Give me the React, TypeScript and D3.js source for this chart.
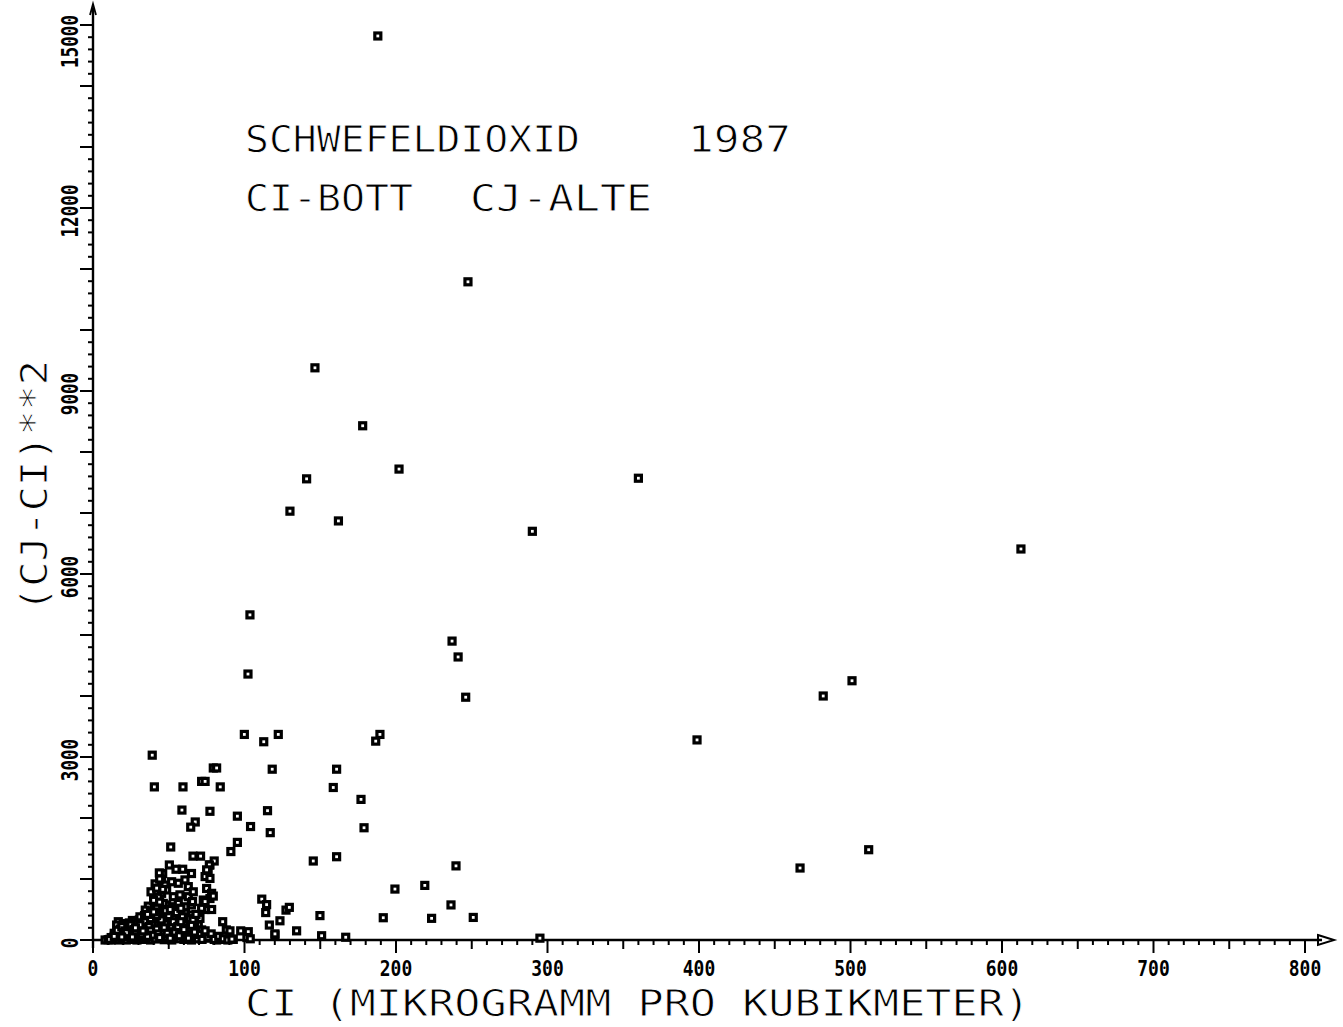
import React from 'react';
import * as d3 from 'd3';

// outliers, ci vs (cj-ci)^2
const sparsePoints: [number, number][] = [
  [188, 14820], [247.5, 10790], [146.5, 9380], [178, 8430], [141, 7560], [202, 7720],
  [130, 7030], [162, 6870], [290, 6700], [360, 7570], [612.5, 6410], [103.6, 5330],
  [102.3, 4360], [237, 4900], [241, 4640], [246, 3980], [482, 4000], [501, 4250],
  [398.7, 3280], [466.7, 1180], [512, 1480], [295, 30],
];

const midPoints: [number, number][] = [
  [99.9, 3370], [122.3, 3370], [112.7, 3250], [118.3, 2800], [115.2, 2120], [117, 1760],
  [104, 1860], [95.3, 2030], [95.3, 1600], [91, 1450], [186.6, 3260], [189.4, 3370],
  [160.8, 2800], [158.6, 2500], [176.9, 2305], [178.9, 1840], [160.8, 1365], [145.4, 1295],
  [199.3, 835], [219, 895], [239.6, 1215], [236.3, 575], [223.5, 355], [251, 370],
  [191.6, 365], [149.8, 400], [150.9, 70], [166.8, 45], [134.4, 150], [120.1, 80], [120.1, 100],
  [39.1, 3030], [40.5, 2510], [59.4, 2510], [58.7, 2130], [77.2, 2110], [79.4, 2820],
  [81.6, 2820], [71.7, 2600], [74, 2600], [84, 2510], [67.5, 1935], [64.5, 1850], [51.3, 1525],
  [111.4, 670], [114.6, 580], [114, 450], [116.4, 245], [123.4, 315], [127.4, 490], [129.6, 535],
  [97.5, 150], [102.5, 136], [92.6, 10], [101.6, 40], [103.8, 20], [90.4, 150], [91.7, 15],
];

const clusterPoints: [number, number][] = [
  [66, 1375], [71, 1375], [50.4, 1230], [54.8, 1160], [59.2, 1160], [65, 1090], [77.2, 1230],
  [76, 1120], [74, 1040], [77.2, 1010], [80, 1295], [76.8, 1230], [75, 1150], [46, 1090],
  [43.8, 1100], [45.3, 955], [47.5, 900], [41, 920], [51.9, 955], [56.3, 930], [60.7, 985],
  [62.9, 875], [75, 845], [78.3, 765], [45.3, 765], [48.6, 820], [53, 710], [57.4, 740],
  [62.9, 710], [66.2, 790], [38.3, 790], [72.8, 655], [77.2, 680], [74, 500], [71.7, 520],
  [78.3, 500], [48.6, 575], [53, 545], [56.3, 600], [60.7, 545], [65, 575], [65.7, 630],
  [74, 630], [79.4, 720], [36.5, 555], [34.5, 490], [46.4, 600], [44, 1000], [46, 830],
  [42, 850], [43, 700], [40, 650], [44, 620],
  [46, 470], [52, 420], [56, 400], [61, 440], [65, 410], [69, 380], [70.6, 355], [69.5, 245],
  [71.7, 165], [62.5, 330], [61.8, 220], [30.6, 330], [33.2, 270], [16.7, 300], [15.6, 245],
  [85.6, 300], [88, 165], [70.6, 55], [77, 30], [81.6, 0], [85, 10], [77.2, 55], [71, 45], [64.5, 40],
  [8, 0], [10, 5], [12, 0], [13, 20], [15, 10], [16, 40], [17, 0], [18, 70], [19, 15], [20, 100],
  [21, 30], [22, 0], [23, 150], [24, 60], [25, 10], [26, 200], [27, 90], [28, 30], [29, 0],
  [30, 120], [31, 50], [32, 180], [33, 10], [34, 80], [35, 230], [36, 140], [37, 30], [38, 0],
  [39, 60], [40, 200], [41, 110], [42, 300], [43, 20], [44, 160], [45, 70], [46, 250], [47, 5],
  [48, 130], [49, 40], [50, 210], [51, 90], [52, 0], [53, 170], [54, 50], [55, 280], [56, 120],
  [57, 20], [58, 200], [59, 80], [60, 10], [61, 150], [62, 40], [63, 260], [64, 100], [65, 0],
  [66, 190], [67, 60], [68, 130], [69, 20], [70, 90], [72, 10], [74, 150], [76, 40], [78, 100],
  [80, 10], [83, 60], [86, 20], [89, 0],
  [14, 110], [18, 180], [22, 220], [26, 320], [29, 260], [31, 380], [34, 400], [36, 330],
  [38, 450], [40, 380], [42, 520], [44, 430], [47, 360], [49, 300], [51, 330], [54, 360],
  [57, 310], [59, 380], [62, 270], [64, 350], [67, 300], [35, 30], [33, 60], [29, 90], [25, 120],
  [21, 60], [17, 120], [12, 40], [11, 10], [27, 10], [37, 90], [41, 20], [43, 250], [45, 190],
  [48, 260], [50, 150], [52, 230], [55, 180], [58, 130], [60, 250], [63, 190], [66, 330],
  [24, 280], [20, 270], [39, 270], [46, 120], [53, 90],
  [14, 60], [16, 160], [19, 220], [21, 150], [23, 90], [25, 250], [27, 170], [28, 120],
  [30, 200], [32, 100], [34, 300], [36, 60], [37, 220], [38, 150], [40, 80], [42, 180],
  [43, 100], [44, 40], [45, 330], [47, 200], [49, 110], [50, 400], [51, 30], [53, 300],
  [54, 130], [56, 220], [57, 70], [58, 300], [60, 170], [61, 60], [63, 30], [65, 240],
  [67, 130], [68, 420], [42, 400], [38, 350], [33, 150], [31, 250], [28, 200], [26, 50],
  [22, 120], [19, 50], [48, 480], [51, 500], [55, 450], [58, 520], [40, 460], [36, 420],
];

const yTickLabels = ['0', '3000', '6000', '9000', '12000', '15000'];
const xTickLabels = ['0', '100', '200', '300', '400', '500', '600', '700', '800'];

const titleLine1 = 'SCHWEFELDIOXID';
const titleYear = '1987';
const titleLine2a = 'CI-BOTT';
const titleLine2b = 'CJ-ALTE';
const xTitle = 'CI (MIKROGRAMM PRO KUBIKMETER)';
const yTitle = '(CJ-CI)**2';

const App = () => {
  const ref = React.useRef<SVGSVGElement>(null);

  React.useEffect(() => {
    const svg = d3.select(ref.current);
    svg.selectAll('*').remove();

    const x = d3.scaleLinear().domain([0, 800]).range([93, 1305]);
    const y = d3.scaleLinear().domain([0, 15000]).range([940, 25]);
    const mono = '"DejaVu Sans Mono", monospace';

    // axes lines
    svg.append('line').attr('x1', x(0)).attr('x2', 1322).attr('y1', y(0)).attr('y2', y(0))
      .attr('stroke', '#000').attr('stroke-width', 2.4);
    svg.append('path').attr('d', `M1318,${y(0) - 5} L1334,${y(0)} L1318,${y(0) + 5} Z`)
      .attr('fill', 'none').attr('stroke', '#000').attr('stroke-width', 2);
    svg.append('line').attr('x1', x(0)).attr('x2', x(0)).attr('y1', 948).attr('y2', 8)
      .attr('stroke', '#000').attr('stroke-width', 2.4);
    svg.append('path').attr('d', `M${x(0) - 3},15 L${x(0)},4 L${x(0) + 3},15`)
      .attr('fill', 'none').attr('stroke', '#000').attr('stroke-width', 1.8);

    // y ticks
    const yTicks = d3.range(0, 15001, 200);
    svg.append('g').selectAll('line').data(yTicks).enter().append('line')
      .attr('x1', d => x(0) - (d % 1000 === 0 ? 13 : 5)).attr('x2', x(0))
      .attr('y1', d => y(d)).attr('y2', d => y(d))
      .attr('stroke', '#000').attr('stroke-width', 2);

    // x ticks
    const xTicks = d3.range(0, 801, 10);
    svg.append('g').selectAll('line').data(xTicks).enter().append('line')
      .attr('x1', d => x(d)).attr('x2', d => x(d))
      .attr('y1', y(0)).attr('y2', d => y(0) + (d % 100 === 0 ? 13 : d % 50 === 0 ? 9 : 5))
      .attr('stroke', '#000').attr('stroke-width', 2);

    // tick labels
    svg.append('g').selectAll('text').data(xTickLabels).enter().append('text')
      .attr('x', d => x(+d)).attr('y', 976)
      .attr('text-anchor', 'middle').attr('font-family', mono).attr('font-weight', 'bold')
      .attr('font-size', 22).attr('textLength', d => d.length * 10.8)
      .attr('lengthAdjust', 'spacingAndGlyphs').text(d => d);

    svg.append('g').selectAll('text').data(yTickLabels).enter().append('text')
      .attr('transform', d => +d === 15000
        ? `translate(78,68) rotate(-90)`
        : `translate(78,${y(+d) + 3}) rotate(-90)`)
      .attr('text-anchor', d => (+d === 15000 ? 'start' : 'middle'))
      .attr('font-family', mono).attr('font-weight', 'bold')
      .attr('font-size', 23).attr('textLength', d => d.length * 10.6)
      .attr('lengthAdjust', 'spacingAndGlyphs').text(d => d);

    // titles
    const title = (t: string, tx: number, ty: number, len: number) =>
      svg.append('text').attr('x', tx).attr('y', ty).attr('font-family', mono)
        .attr('font-size', 38).attr('textLength', len).attr('lengthAdjust', 'spacingAndGlyphs')
        .attr('stroke', '#fff').attr('stroke-width', 0.9).text(t);
    title(titleLine1, 245, 152, 335);
    title(titleYear, 688, 152, 103);
    title(titleLine2a, 245, 211, 168);
    title(titleLine2b, 470, 211, 182);
    title(xTitle, 245, 1016, 785);

    svg.append('text').attr('transform', 'translate(47,612) rotate(-90)')
      .attr('font-family', mono).attr('font-size', 38)
      .attr('stroke', '#fff').attr('stroke-width', 0.9)
      .attr('textLength', 252).attr('lengthAdjust', 'spacingAndGlyphs').text(yTitle);

    // points
    const all = [...clusterPoints, ...midPoints, ...sparsePoints];
    svg.append('g').selectAll('rect').data(all).enter().append('rect')
      .attr('x', d => x(d[0]) - 3).attr('y', d => y(d[1]) - 3)
      .attr('width', 6).attr('height', 6)
      .attr('fill', '#fff').attr('stroke', '#000').attr('stroke-width', 3.2);
  }, []);

  return (
    <svg ref={ref} width={1343} height={1027}
      style={{ position: 'absolute', left: 0, top: 0, background: '#fff' }} />
  );
};

export default App;
